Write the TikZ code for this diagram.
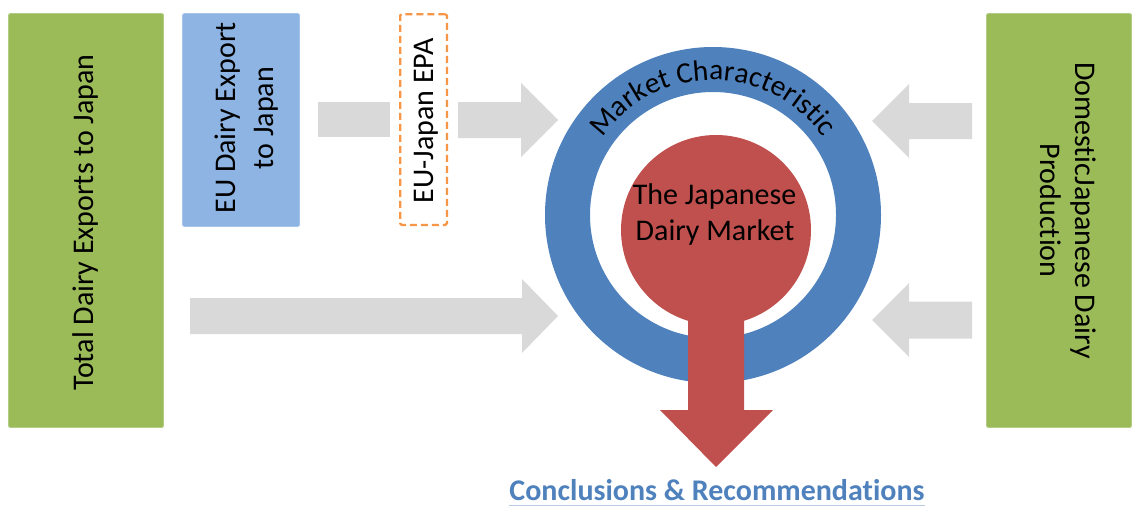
\documentclass[tikz,border=0pt]{standalone}
\usepackage{fontspec}
\setmainfont{Carlito}[Ligatures=NoCommon]
\usetikzlibrary{decorations.text}
\definecolor{boxgreen}{HTML}{9BBB59}
\definecolor{boxgreenedge}{HTML}{B3CC85}
\definecolor{boxblue}{HTML}{8DB4E2}
\definecolor{ringblue}{HTML}{4F81BD}
\definecolor{corered}{HTML}{C0504D}
\definecolor{arrowgray}{HTML}{D9D9D9}
\definecolor{epaorange}{HTML}{F79646}
\definecolor{linkline}{HTML}{B9CDE5}
\newcommand\bigtxt{\fontsize{30}{36.6}\selectfont}
\newcommand\mctxt{\fontsize{29.5}{35}\selectfont}
\begin{document}
\begin{tikzpicture}[x=1pt,y=-1pt,
  panel/.style={rectangle, rounded corners=1.5pt, inner sep=0pt, outer sep=0pt},
  greenpanel/.style={panel, fill=boxgreen, draw=boxgreenedge, line width=0.8pt},
  bluepanel/.style={panel, fill=boxblue, draw=boxblue!80!white, line width=0.6pt},
  epapanel/.style={panel, draw=epaorange, line width=2.25pt, dash pattern=on 7pt off 4pt, fill=white},
  lbl/.style={inner sep=0pt, font=\bigtxt, text=black, anchor=base},
  flow/.style={fill=arrowgray},
]
\useasboundingbox (0,0) rectangle (1132,506);

% grey block arrows
\fill[flow] (318,102) rectangle (390,137);
\fill[flow] (458,102) -- (521,102) -- (521,83) -- (558,120) -- (521,157) -- (521,138) -- (458,138) -- cycle;
\fill[flow] (190,298) -- (522,298) -- (522,279) -- (558,316) -- (522,353) -- (522,334) -- (190,334) -- cycle;
\fill[flow] (972,103) -- (909,103) -- (909,84) -- (872,121) -- (909,158) -- (909,139) -- (972,139) -- cycle;
\fill[flow] (972,301.5) -- (909,301.5) -- (909,283) -- (872,320) -- (909,357) -- (909,338.5) -- (972,338.5) -- cycle;

% boxes
\node[greenpanel, minimum width=155pt, minimum height=414pt] (total) at (86,220.5) {};
\node[bluepanel, minimum width=117pt, minimum height=213pt] (eu) at (241,120) {};
\node[epapanel, minimum width=46.75pt, minimum height=210.75pt] (epa) at (423.5,119.5) {};
\node[greenpanel, minimum width=145pt, minimum height=414pt] (dom) at (1059,220.5) {};

\node[lbl, rotate=90] (totaltxt) at (93,222.5) {Total Dairy Exports to Japan};
\node[lbl, rotate=90] (eutxta) at (235,118) {EU Dairy Export};
\node[lbl, rotate=90] (eutxtb) at (273,118) {to Japan};
\node[lbl, rotate=90] (epatxt) at (433,121) {EU-Japan EPA};
\node[lbl, rotate=-90] (domtxta) at (1075,210.5) {DomesticJapanese Dairy};
\node[lbl, rotate=-90] (domtxtb) at (1040,210.5) {Production};

% ring
\fill[ringblue, even odd rule] (713,215) circle[radius=168pt] (713,215) circle[radius=123pt];
\path[decorate, decoration={text along path, text={|\mctxt|Market Characteristic}, text align=center}]
  (578,215) arc[start angle=180, end angle=0, radius=135pt];

% red core with arrow
\fill[corered] (716,230) circle[radius=95pt];
\fill[corered] (688,300) -- (744,300) -- (744,410) -- (773,410) -- (716,467) -- (660,410) -- (688,410) -- cycle;
\node[lbl] (coretxta) at (714.5,204) {The Japanese};
\node[lbl] (coretxtb) at (715,240) {Dairy Market};

% conclusions
\node[lbl, font=\bigtxt\bfseries, text=ringblue] (concl) at (717,500) {Conclusions \& Recommendations};
\draw[linkline, line width=1pt] ([yshift=-5.5pt]concl.base west) -- ([yshift=-5.5pt]concl.base east);
\end{tikzpicture}
\end{document}
